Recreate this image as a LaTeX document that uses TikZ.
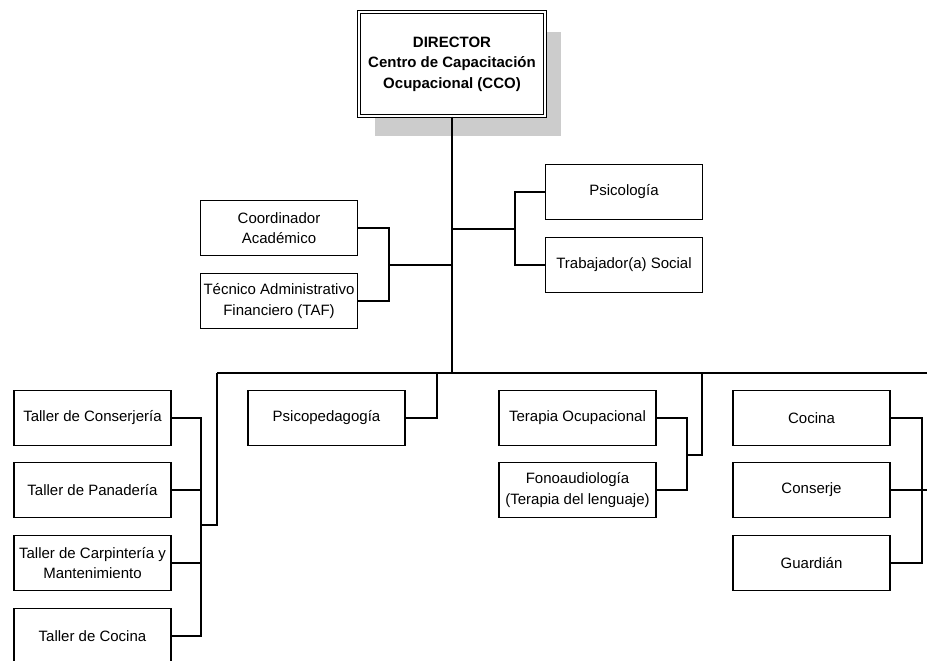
\documentclass[tikz,border=0pt]{standalone}
\usepackage{fontspec}
\setmainfont{Liberation Sans}
\usepackage{tikz}
\usetikzlibrary{shadows}

\definecolor{shadowgray}{RGB}{204,204,204}

\tikzset{
    unit/.style={draw, line width=1.3pt, fill=white, minimum width=157pt, minimum height=55pt,
        inner sep=2pt, align=center, font=\fontsize{15}{20.5}\selectfont},
    head/.style={draw, double, double distance=2pt, line width=1pt, fill=white,
        minimum width=186pt, minimum height=104pt, align=center,
        font=\bfseries\fontsize{15}{20.5}\selectfont,
        drop shadow={shadow xshift=16pt, shadow yshift=-20pt, fill=shadowgray, opacity=1}},
    link/.style={line width=1.3pt}
}

\begin{document}
\begin{tikzpicture}[x=1pt,y=-1pt]
    \useasboundingbox (0,0) rectangle (927,661);

    % Director
    \node[head] (dir) at (452,64) {DIRECTOR\\Centro de Capacitación\\Ocupacional (CCO)};

    % Staff
    \node[unit] (coord) at (279,228) {Coordinador\\Académico};
    \node[unit] (taf) at (279,301) {Técnico Administrativo\\Financiero (TAF)};
    \node[unit] (psico) at (624,192) {Psicología};
    \node[unit] (trab) at (624,265) {Trabajador(a) Social};

    % Talleres
    \node[unit] (tcons) at (92.5,418) {Taller de Conserjería};
    \node[unit] (tpan) at (92.5,490) {Taller de Panadería};
    \node[unit] (tcarp) at (92.5,563) {Taller de Carpintería y\\Mantenimiento};
    \node[unit] (tcoc) at (92.5,636) {Taller de Cocina};

    % Apoyo
    \node[unit] (psped) at (326.5,418) {Psicopedagogía};
    \node[unit] (terap) at (577.5,418) {Terapia Ocupacional};
    \node[unit] (fono) at (577.5,490) {Fonoaudiología\\(Terapia del lenguaje)};

    % Servicios
    \node[unit] (cocina) at (811.5,418) {Cocina};
    \node[unit] (conserje) at (811.5,490) {Conserje};
    \node[unit] (guardian) at (811.5,563) {Guardián};

    % Junction points
    \coordinate (busL) at (217,373);
    \coordinate (busR) at (927,373);
    \coordinate (jStaff) at (389,265);
    \coordinate (jPsico) at (515,229);
    \coordinate (jTall) at (201,525);
    \coordinate (busPsped) at (437,373);
    \coordinate (jTerap) at (687,455);
    \coordinate (busTerap) at (702,373);
    \coordinate (jServ) at (922,490);

    % Main line and bus
    \draw[link] (dir.south) -- (dir.south |- busR);
    \draw[link] (busL) -- (busR);

    % Staff links
    \draw[link] (coord.east) -| (jStaff) |- (taf.east);
    \draw[link] (jStaff) -- (jStaff -| dir.south);
    \draw[link] (psico.west) -| (jPsico) |- (trab.west);
    \draw[link] (jPsico) -- (jPsico -| dir.south);

    % Talleres links
    \draw[link] (tcons.east) -| (jTall |- tcoc.east) -- (tcoc.east);
    \draw[link] (tpan.east) -- (tpan.east -| jTall);
    \draw[link] (tcarp.east) -- (tcarp.east -| jTall);
    \draw[link] (jTall) -| (busL);

    % Apoyo links
    \draw[link] (psped.east) -| (busPsped);
    \draw[link] (terap.east) -| (jTerap) |- (fono.east);
    \draw[link] (jTerap) -| (busTerap);

    % Servicios links
    \draw[link] (cocina.east) -| (jServ) |- (guardian.east);
    \draw[link] (conserje.east) -- (conserje.east -| busR);
\end{tikzpicture}
\end{document}
